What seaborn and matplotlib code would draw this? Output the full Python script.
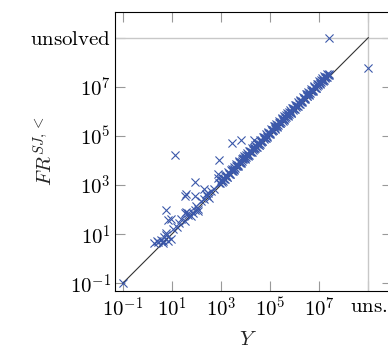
import numpy as np
import pandas as pd
import matplotlib
matplotlib.use('Agg')
import matplotlib.pyplot as plt
import seaborn as sns

# "unsolved" is drawn at 1e9 on both axes
UNSOLVED = 1e9

# points, stored as log10 exponents
low_log_x = [-1.0, 0.27, 0.45, 0.65, 0.78, 0.85, 0.98, 0.38, 0.65, 0.78, 0.85, 0.98, 0.78,
             1.39, 1.52, 1.66, 1.59, 1.86, 1.93, 2.06, 2.00, 1.52, 1.66, 1.79, 2.06,
             1.52, 1.59, 1.93, 1.93, 2.40, 2.53, 2.33, 2.87, 2.94, 2.87, 1.12, 2.94,
             3.45, 3.82, 4.33, 2.47, 2.20, 2.30, 2.60, 2.70, 2.45, 1.20, 1.30, 1.05,
             0.55, 0.70]
low_log_y = [-1.0, 0.63, 0.68, 0.63, 0.95, 0.72, 0.82, 0.73, 0.73, 1.06, 1.57, 1.60, 2.00,
             1.60, 1.54, 1.80, 1.90, 1.87, 2.00, 2.04, 2.15, 1.87, 1.87, 1.74, 1.94,
             2.55, 2.62, 2.55, 3.13, 2.62, 2.49, 2.82, 3.30, 3.09, 3.43, 4.22, 4.01,
             4.72, 4.85, 4.85, 2.69, 2.35, 2.45, 2.75, 2.85, 2.55, 1.30, 1.45, 1.20,
             0.75, 0.90]

band_log_x = [2.96, 3.01, 3.05, 3.08, 3.12, 3.15, 3.19, 3.22, 3.26, 3.29, 3.33, 3.36, 3.41,
              3.44, 3.48, 3.52, 3.55, 3.58, 3.62, 3.66, 3.69, 3.73, 3.77, 3.80, 3.84,
              3.87, 3.91, 3.95, 3.98, 4.02, 4.06, 4.09, 4.13, 4.16, 4.20, 4.24, 4.27,
              4.31, 4.35, 4.38, 4.42, 4.45, 4.49, 4.53, 4.57, 4.60, 4.64, 4.67, 4.71,
              4.75, 4.78, 4.82, 4.86, 4.89, 4.93, 4.97, 5.00, 5.04, 5.07, 5.11, 5.15,
              5.18, 5.22, 5.26, 5.29, 5.33, 5.36, 5.40, 5.44, 5.47, 5.51, 5.55, 5.58,
              5.62, 5.65, 5.69, 5.73, 5.76, 5.80, 5.84, 5.87, 5.91, 5.94, 5.98, 6.02,
              6.05, 6.09, 6.13, 6.16, 6.20, 6.23, 6.27, 6.31, 6.34, 6.38, 6.42, 6.45,
              6.49, 6.52, 6.56, 6.60, 6.63, 6.67, 6.71, 6.74, 6.78, 6.81, 6.85, 6.89,
              6.92, 6.96, 7.00, 7.03, 7.07, 7.10, 7.14, 7.18, 7.21, 7.25, 7.29, 7.32,
              7.36, 7.40]
band_log_y = [3.10, 3.22, 3.14, 3.30, 3.25, 3.24, 3.40, 3.35, 3.33, 3.52, 3.46, 3.45, 3.62,
              3.56, 3.57, 3.74, 3.66, 3.70, 3.85, 3.78, 3.80, 3.97, 3.88, 3.93, 4.08,
              3.98, 4.04, 4.19, 4.10, 4.13, 4.30, 4.21, 4.24, 4.40, 4.33, 4.35, 4.52,
              4.42, 4.46, 4.62, 4.55, 4.56, 4.73, 4.64, 4.68, 4.85, 4.76, 4.78, 4.95,
              4.87, 4.90, 5.06, 4.97, 5.01, 5.17, 5.09, 5.12, 5.28, 5.19, 5.22, 5.39,
              5.30, 5.33, 5.50, 5.41, 5.45, 5.60, 5.52, 5.55, 5.71, 5.62, 5.67, 5.82,
              5.74, 5.77, 5.93, 5.84, 5.88, 6.04, 5.95, 5.99, 6.15, 6.06, 6.09, 6.26,
              6.17, 6.20, 6.37, 6.28, 6.31, 6.47, 6.39, 6.42, 6.58, 6.50, 6.53, 6.69,
              6.61, 6.64, 6.80, 6.71, 6.75, 6.91, 6.82, 6.86, 7.02, 6.93, 6.96, 7.13,
              7.04, 7.07, 7.24, 7.15, 7.18, 7.34, 7.26, 7.29, 7.45, 7.36, 7.40, 7.52,
              7.47, 7.50]

band2_log_x = [3.03, 3.10, 3.17, 3.24, 3.31, 3.38, 3.46, 3.53, 3.60, 3.68, 3.75, 3.82, 3.89,
               3.96, 4.04, 4.11, 4.18, 4.25, 4.33, 4.40, 4.47, 4.55, 4.62, 4.69, 4.77,
               4.84, 4.91, 4.99, 5.06, 5.13, 5.20, 5.28, 5.35, 5.42, 5.49, 5.57, 5.64,
               5.71, 5.78, 5.86, 5.93, 6.00, 6.07, 6.15, 6.22, 6.29, 6.36, 6.44, 6.51,
               6.58, 6.65, 6.73, 6.80, 6.87, 6.94, 7.02, 7.09, 7.16, 7.23, 7.31, 7.38]
band2_log_y = [3.20, 3.17, 3.35, 3.32, 3.48, 3.46, 3.66, 3.62, 3.79, 3.76, 3.93, 3.91, 4.10,
               4.04, 4.22, 4.20, 4.37, 4.33, 4.52, 4.49, 4.66, 4.63, 4.81, 4.78, 4.96,
               4.92, 5.10, 5.07, 5.25, 5.22, 5.39, 5.36, 5.54, 5.51, 5.68, 5.65, 5.83,
               5.80, 5.97, 5.94, 6.12, 6.09, 6.26, 6.23, 6.41, 6.38, 6.55, 6.52, 6.70,
               6.67, 6.84, 6.81, 6.99, 6.96, 7.13, 7.10, 7.28, 7.25, 7.41, 7.39, 7.48]

# instances unsolved by one of the two
unsolved_x = [10 ** 7.41, UNSOLVED]
unsolved_y = [UNSOLVED, 10 ** 7.75]

tick_exps = [-1, 1, 3, 5, 7]
tick_labels = ['$10^{%d}$' % e for e in tick_exps]

x = list(10 ** np.array(low_log_x + band_log_x + band2_log_x)) + unsolved_x
y = list(10 ** np.array(low_log_y + band_log_y + band2_log_y)) + unsolved_y
df = pd.DataFrame({'x': x, 'y': y})

sns.set_style('ticks')
plt.rcParams['mathtext.fontset'] = 'cm'
plt.rcParams['font.family'] = ['DejaVu Serif']

fig = plt.figure(figsize=(3.88, 3.56), dpi=100)
ax = fig.add_axes([115 / 388, 1 - 291 / 356, 277 / 388, 279 / 356])

ax.set_xscale('log')
ax.set_yscale('log')

# reference lines for "unsolved"
ax.axhline(UNSOLVED, color='#c8c8c8', lw=1.0, zorder=1)
ax.axvline(UNSOLVED, color='#c8c8c8', lw=1.0, zorder=1)
ax.plot([0.1, UNSOLVED], [0.1, UNSOLVED], color='#333333', lw=0.8, zorder=2)

sns.scatterplot(data=df, x='x', y='y', marker='x', s=34, color='#3b58aa',
                linewidth=0.8, ax=ax, zorder=3, legend=False)

ax.set_xlim(10 ** -1.31, 10 ** 9.96)
ax.set_ylim(10 ** -1.31, 10 ** 10.04)

ticks = [10.0 ** e for e in tick_exps] + [UNSOLVED]
ax.set_xticks(ticks)
ax.set_xticklabels(tick_labels + [r'$\mathrm{uns.}$'])
ax.set_yticks(ticks)
ax.set_yticklabels(tick_labels + [r'$\mathrm{unsolved}$'])
ax.minorticks_off()
ax.tick_params(which='major', direction='in', length=7.5, width=0.8, color='#999999',
               top=True, right=True, labelsize=15, labelcolor='black')
ax.tick_params(axis='x', pad=4)
ax.tick_params(axis='y', pad=3)

for s in ax.spines.values():
    s.set_linewidth(0.8)
    s.set_color('black')

ax.set_xlabel('$Y$', fontsize=15)
ax.set_ylabel('$FR^{SJ,<}$', fontsize=15)
ax.xaxis.set_label_coords((248 - 115) / 277, (291 - 330) / 279)
ax.yaxis.set_label_coords((57 - 115) / 277, 0.5)

fig.savefig('out.png', dpi=100)
